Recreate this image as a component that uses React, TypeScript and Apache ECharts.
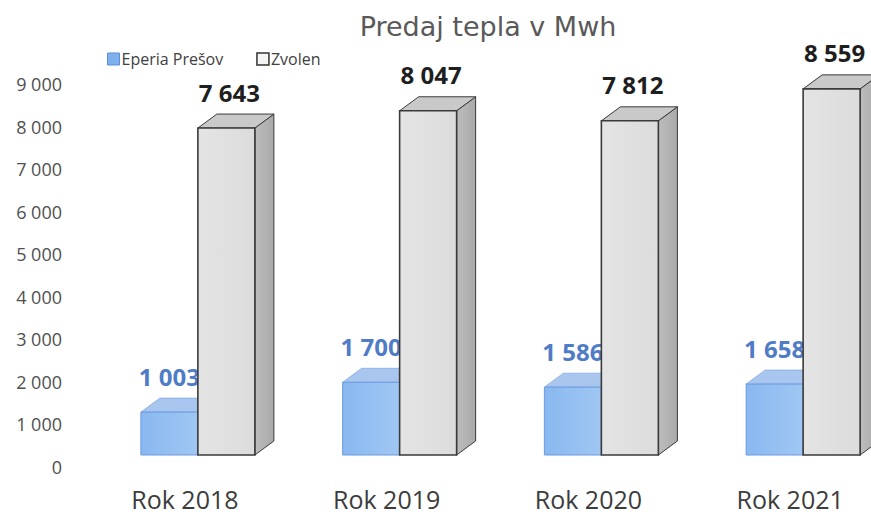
import React, { useEffect, useRef } from "react";
import * as echarts from "echarts";

const categories = ["Rok 2018", "Rok 2019", "Rok 2020", "Rok 2021"];
const presovValues = [1003, 1700, 1586, 1658];
const zvolenValues = [7643, 8047, 7812, 8559];
const seriesNames = ["Eperia Prešov", "Zvolen"];
const yTicks = [0, 1000, 2000, 3000, 4000, 5000, 6000, 7000, 8000, 9000];

const fmt = (v: number) => {
  const s = String(Math.round(v));
  return s.replace(/\B(?=(\d{3})+(?!\d))/g, " ");
};

type Pal = { front: any; top: string; side: any; stroke: string; label: string };

const bluePal: Pal = {
  front: new echarts.graphic.LinearGradient(0, 0, 1, 0, [
    { offset: 0, color: "#89b8f0" },
    { offset: 1, color: "#a0c7f3" },
  ]),
  top: "#a8c6ee",
  side: "#7aa6df",
  stroke: "#6b9be0",
  label: "#4f7cc6",
};
const grayPal: Pal = {
  front: new echarts.graphic.LinearGradient(0, 0, 1, 0, [
    { offset: 0, color: "#e4e4e4" },
    { offset: 1, color: "#dcdcdc" },
  ]),
  top: "#c9c9c9",
  side: new echarts.graphic.LinearGradient(0, 0, 1, 0, [
    { offset: 0, color: "#bdbdbd" },
    { offset: 1, color: "#a9a9a9" },
  ]),
  stroke: "#3a3a3a",
  label: "#1e1e1e",
};

const makeRender = (side: "left" | "right", pal: Pal) => (params: any, api: any) => {
  const i = api.value(0);
  const v = api.value(1);
  const p = api.coord([i, v]);
  const p0 = api.coord([i, 0]);
  const bw = 57;
  const dx = 19;
  const dy = -14;
  const cx = p[0];
  const y = p[1];
  const y0 = p0[1];
  const x0 = side === "left" ? cx - bw : cx;
  const x1 = x0 + bw;
  return {
    type: "group",
    children: [
      {
        type: "polygon",
        shape: { points: [[x1, y0], [x1 + dx, y0 + dy], [x1 + dx, y + dy], [x1, y]] },
        style: { fill: pal.side, stroke: pal.stroke, lineWidth: side === "right" ? 1 : 0.6 },
      },
      {
        type: "polygon",
        shape: { points: [[x0, y], [x0 + dx, y + dy], [x1 + dx, y + dy], [x1, y]] },
        style: { fill: pal.top, stroke: pal.stroke, lineWidth: side === "right" ? 1 : 0.6 },
      },
      {
        type: "rect",
        shape: { x: x0, y: y, width: bw, height: y0 - y },
        style: { fill: pal.front, stroke: pal.stroke, lineWidth: side === "right" ? 1.6 : 1 },
      },
      {
        type: "text",
        x: x0 + bw / 2 + (side === "right" ? 3 : 0),
        y: y - 36,
        style: {
          text: fmt(v),
          fill: pal.label,
          font: "bold 24px 'Open Sans', sans-serif",
          align: "center",
          verticalAlign: "middle",
        },
      },
    ],
  };
};

export default function App() {
  const ref = useRef<HTMLDivElement>(null);
  useEffect(() => {
    document.body.style.margin = "0";
    document.body.style.overflow = "hidden";
    document.documentElement.style.overflow = "hidden";
    const chart = echarts.init(ref.current!, undefined, { renderer: "svg" });
    chart.setOption({
      animation: false,
      backgroundColor: "#ffffff",
      title: {
        text: "Predaj tepla v Mwh",
        left: 483,
        top: 8,
        textAlign: "center",
        textStyle: {
          fontFamily: "'DejaVu Sans', sans-serif",
          fontSize: 27,
          fontWeight: "normal",
          color: "#595959",
        },
      },
      legend: {
        left: 102,
        top: 46,
        itemWidth: 12,
        itemHeight: 12,
        itemGap: 33,
        icon: "rect",
        textStyle: { fontFamily: "'Open Sans', sans-serif", fontSize: 16, color: "#404040", padding: [0, 0, 0, -3] },
        data: [
          { name: seriesNames[0], itemStyle: { color: "#7fb0ee", borderColor: "#5b8fd6", borderWidth: 1 } },
          { name: seriesNames[1], itemStyle: { color: "#f4f4f4", borderColor: "#333333", borderWidth: 1.5 } },
        ],
      },
      grid: [
        { left: 97, width: 807, top: 84, bottom: 50 },
        { left: 97, width: 807, top: 70, bottom: 62 },
      ],
      xAxis: [
        {
          type: "category",
          gridIndex: 0,
          data: categories,
          show: false,
        },
        {
          type: "category",
          gridIndex: 1,
          data: categories,
          axisLine: { show: false },
          axisTick: { show: false },
          axisLabel: {
            margin: 31,
            fontFamily: "'Open Sans', sans-serif",
            fontSize: 25,
            color: "#3c3c3c",
            padding: [0, 26, 0, 0],
          },
        },
      ],
      yAxis: [
        {
          type: "value",
          gridIndex: 0,
          min: yTicks[0],
          max: yTicks[yTicks.length - 1],
          interval: 1000,
          splitLine: { show: false },
          axisLine: { show: false },
          axisTick: { show: false },
          axisLabel: {
            margin: 35,
            fontFamily: "'Open Sans', sans-serif",
            fontSize: 18,
            color: "#505050",
            formatter: (v: number) => fmt(v),
          },
        },
        {
          type: "value",
          gridIndex: 1,
          min: yTicks[0],
          max: yTicks[yTicks.length - 1],
          interval: 1000,
          show: false,
          splitLine: { show: false },
        },
      ],
      series: [
        {
          name: seriesNames[0],
          type: "custom",
          xAxisIndex: 1,
          yAxisIndex: 1,
          itemStyle: { color: "#7fb0ee" },
          renderItem: makeRender("left", bluePal),
          data: presovValues.map((v, i) => [i, v]),
        },
        {
          name: seriesNames[1],
          type: "custom",
          xAxisIndex: 1,
          yAxisIndex: 1,
          itemStyle: { color: "#f4f4f4" },
          renderItem: makeRender("right", grayPal),
          data: zvolenValues.map((v, i) => [i, v]),
        },
      ],
    });
    return () => chart.dispose();
  }, []);
  return <div ref={ref} style={{ width: 904, height: 517 }} />;
}
